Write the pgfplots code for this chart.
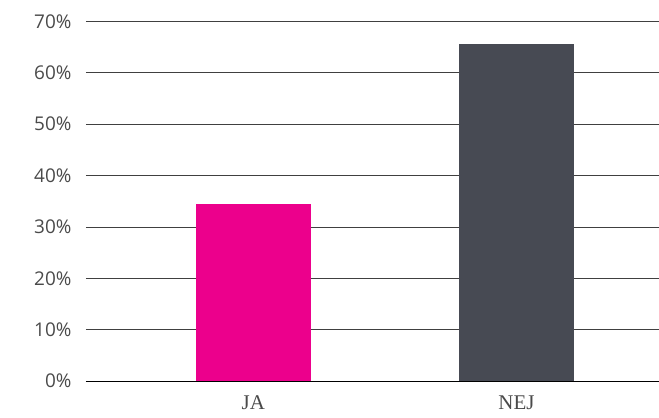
\documentclass[border=0pt]{standalone}
\usepackage{pgfplots}
\pgfplotsset{compat=1.18}
\usepackage{fontspec}
\setmainfont{Open Sans}
\newfontfamily\seriffont{Liberation Serif}
\definecolor{pinkbar}{HTML}{EC008C}
\definecolor{graybar}{HTML}{474A53}
\definecolor{ticktext}{HTML}{4A4A4A}
\begin{document}
\begin{tikzpicture}
\begin{axis}[
  scale only axis,
  width=573bp, height=359.5bp,
  xmin=-0.636, xmax=1.542,
  ymin=0, ymax=70,
  ytick={0,10,...,70},
  xtick={0,1},
  xticklabels={JA,NEJ},
  axis line style={draw=none},
  major tick length=0pt,
  ymajorgrids,
  grid style={draw=black!75, line width=0.8pt},
  yticklabel={\pgfmathprintnumber{\tick}\%},
  /pgf/number format/assume math mode=true,
  yticklabel style={font=\fontsize{19}{22}\selectfont, text=ticktext, anchor=east, xshift=-11bp},
  xticklabel style={font=\seriffont\fontsize{21}{24}\selectfont, text=ticktext, anchor=north, yshift=-11bp},
  clip=false,
]
\addplot[ybar, bar width=0.437, fill=pinkbar, draw=none] coordinates {(0,34.5)};
\addplot[ybar, bar width=0.437, fill=graybar, draw=none] coordinates {(1,65.6)};
\draw[black, line width=0.9pt] (axis cs:-0.636,0) -- (axis cs:1.542,0);
\end{axis}
\pgfresetboundingbox
\path ([xshift=-86bp,yshift=-37bp]current axis.south west) rectangle ([yshift=21.5bp]current axis.north east);
\end{tikzpicture}
\end{document}
